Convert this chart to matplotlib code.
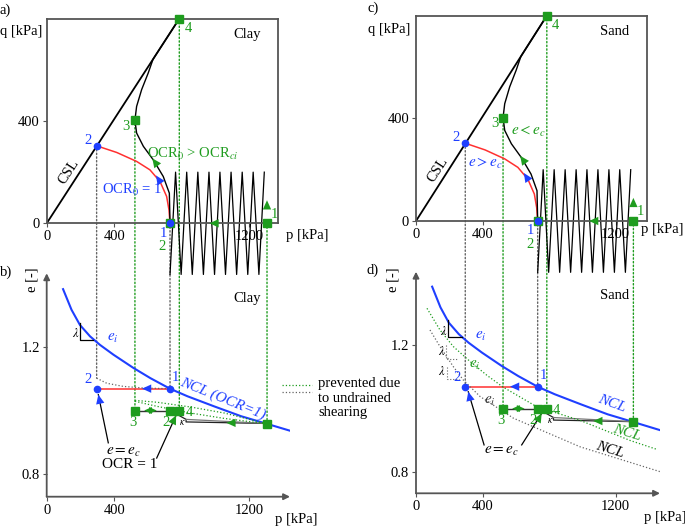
import matplotlib
matplotlib.use('Agg')
import matplotlib.pyplot as plt
from matplotlib.patches import ConnectionPatch
from matplotlib.lines import Line2D

plt.rcParams['font.family'] = ['Liberation Serif', 'DejaVu Serif']
plt.rcParams['mathtext.fontset'] = 'stix'
plt.rcParams['font.size'] = 10.5

BLUE = '#1f3fff'
GREEN = '#1e9c1e'
RED = '#ff3030'
GRAY = '#555555'
DOT = '#666666'

# --- stress paths p-q (kPa), same sketch for clay and sand
csl_p = [0, 786]
csl_q = [0, 800]
red_p = [731, 725, 711, 672, 612, 533, 415, 296]
red_q = [0, 52, 105, 163, 209, 242, 277, 303]
black_p = [731, 727, 691, 632, 573, 533, 523, 533, 563, 602, 630, 786]
black_q = [0, 118, 183, 248, 301, 353, 403, 457, 523, 588, 641, 800]
cyc_p = [1290, 1258, 1224, 1192, 1159, 1126, 1093, 1060, 1027, 995, 962, 929,
         896, 863, 830, 797, 764, 731]
cyc_q = [200, -200, 200, -200, 200, -200, 200, -200, 200, -200, 200, -200,
         200, -200, 200, -200, 200, -200]
blue_pq_p = [731, 296]
blue_pq_q = [0, 303]
green_pq_p = [1306, 731, 523, 786]
green_pq_q = [0, 0, 403, 800]

# --- e-p plane
ncl_p = [97, 147, 197, 257, 316, 396, 515, 615, 730, 834, 993, 1152, 1305, 1475]
ncl_e = [1.383, 1.318, 1.270, 1.234, 1.207, 1.176, 1.134, 1.102, 1.069, 1.045,
         1.013, 0.982, 0.958, 0.931]
ncl_green_p = [66, 144, 224, 325, 425, 522, 725, 986, 1286, 1447]
ncl_green_e = [1.315, 1.247, 1.195, 1.148, 1.105, 1.068, 1.006, 0.963, 0.900, 0.872]
ncl_gray_p = [84, 144, 224, 284, 385, 585, 986, 1466]
ncl_gray_e = [1.247, 1.195, 1.132, 1.090, 1.038, 0.970, 0.880, 0.802]
prev_gray_p = [296, 356, 455, 575, 714]
prev_gray_e = [1.102, 1.086, 1.076, 1.071, 1.069]
prev_g1_p = [523, 655, 854, 1053, 1306]
prev_g1_e = [1.032, 1.026, 1.011, 0.992, 0.958]
prev_g2_p = [523, 655, 854, 1053, 1306]
prev_g2_e = [1.029, 1.013, 0.992, 0.975, 0.958]
blue_ep_p = [731, 296]
blue_ep_e = [1.069, 1.069]
green_ep_p = [1306, 731, 523, 786]
green_ep_e = [0.958, 1.0, 1.0, 1.0]
kap_p = [731, 826, 826, 1306]
kap_e = [1.0, 0.972, 0.964, 0.959]

fig = plt.figure(figsize=(6.85, 5.28), dpi=100)


def place(l, t, r, b):
    ax = fig.add_axes([l / 685, 1 - b / 528, (r - l) / 685, (b - t) / 528])
    ax.patch.set_visible(False)
    return ax


def head(ax, x0, y0, x1, y1, c, ms=12):
    ax.annotate('', xy=(x1, y1), xytext=(x0, y0),
                arrowprops=dict(arrowstyle='-|>,head_length=0.55,head_width=0.25',
                                color=c, lw=0.01, mutation_scale=ms,
                                shrinkA=0, shrinkB=0))


def pq_panel(ax, name, xmax, arr_left):
    ax.set_xlim(0, xmax)
    ax.set_ylim(0, 800)
    for s in ax.spines.values():
        s.set_color(GRAY)
        s.set_linewidth(1.3)
    ax.set_xticks([0, 400, 1200])
    ax.set_yticks([0, 400])
    ax.tick_params(length=3, color=GRAY, pad=2)
    ax.plot(csl_p, csl_q, color='black', lw=1.3)
    ax.plot(cyc_p, cyc_q, color='black', lw=0.9, clip_on=False)
    ax.plot(red_p, red_q, color=RED, lw=1.1)
    ax.plot(black_p, black_q, color='black', lw=1.0)
    ax.plot(green_pq_p, green_pq_q, 's', color=GREEN, ms=5.5, clip_on=False, zorder=5)
    ax.plot(blue_pq_p, blue_pq_q, 'o', color=BLUE, ms=4.5, clip_on=False, zorder=6)
    head(ax, 668, 167, 648, 187, BLUE)
    head(ax, 648, 234, 626, 254, GREEN)
    head(ax, 1306, 30, 1306, 90, GREEN)
    head(ax, arr_left + 40, 0, arr_left, 0, GREEN)
    ax.text(130, 200, 'CSL', rotation=57, ha='center', va='center')
    ax.text(1190, 740, name, ha='center', va='center')
    ax.text(242, 325, '2', color=BLUE, ha='center', va='center')
    ax.text(472, 380, '3', color=GREEN, ha='center', va='center')
    ax.text(838, 760, '4', color=GREEN, ha='center', va='center')
    ax.text(690, -38, '1', color=BLUE, ha='center', va='center')
    ax.text(685, -92, '2', color=GREEN, ha='center', va='center')
    ax.text(1348, 36, '1', color=GREEN, ha='center', va='center')


def ep_panel(ax, name, xmax, ymin, ymax):
    ax.set_xlim(0, xmax)
    ax.set_ylim(ymin, ymax)
    for s in ax.spines.values():
        s.set_visible(False)
    ax.set_xticks([0, 400, 1200])
    ax.set_yticks([0.8, 1.2])
    ax.set_yticklabels(['0.8', '1.2'])
    ax.tick_params(length=3, color=GRAY, pad=2)
    ax.annotate('', xy=(1, 0), xytext=(0, 0), xycoords='axes fraction',
                arrowprops=dict(arrowstyle='-|>', color=GRAY, lw=1.3,
                                mutation_scale=9, shrinkA=0, shrinkB=0))
    ax.annotate('', xy=(0, 1), xytext=(0, 0), xycoords='axes fraction',
                arrowprops=dict(arrowstyle='-|>', color=GRAY, lw=1.3,
                                mutation_scale=9, shrinkA=0, shrinkB=0))
    ax.plot(ncl_p, ncl_e, color=BLUE, lw=1.5)
    ax.plot(blue_ep_p, blue_ep_e, color=RED, lw=1.1)
    ax.plot([523, 786], [1.0, 1.0], color='#333333', lw=1.0)
    ax.plot(kap_p, kap_e, color='#222222', lw=0.9)
    ax.plot([826, 1306], [0.972, 0.959], color='#777777', lw=0.9)
    ax.plot(green_ep_p, green_ep_e, 's', color=GREEN, ms=5.5, zorder=5)
    ax.plot(blue_ep_p, blue_ep_e, 'o', color=BLUE, ms=4.5, zorder=6)
    head(ax, 610, 1.069, 565, 1.069, BLUE)
    head(ax, 615, 1.0, 578, 1.0, GREEN, 10)
    head(ax, 612, 1.0, 652, 1.0, GREEN, 10)
    head(ax, 1110, 0.961, 1065, 0.961, GREEN)
    ax.text(806, 0.962, r'$\kappa$', fontsize=7, ha='center', va='center')
    ax.text(1190, 1.355, name, ha='center', va='center')
    ax.text(513, 0.962, '3', color=GREEN, ha='center', va='center')
    ax.text(705, 0.962, '2', color=GREEN, ha='center', va='center')
    ax.text(846, 0.995, '4', color=GREEN, ha='center', va='center')
    ax.text(764, 1.104, '1', color=BLUE, ha='center', va='center')
    ax.text(247, 1.097, '2', color=BLUE, ha='center', va='center')
    ax.text(390, 1.227, r'$e_i$', color=BLUE, ha='center', va='center', fontsize=11)


# ---------------- a) clay p-q
ax_a = place(46.7, 18.7, 278.3, 223.3)
pq_panel(ax_a, 'Clay', 1373, 965)
ax_a.text(504, 131, r'OCR$_0$ = 1', color=BLUE, ha='center', va='center')
ax_a.text(867, 272, r'OCR$_0$ > OCR$_{ci}$', color=GREEN, ha='center', va='center')

# ---------------- c) sand p-q
ax_c = place(416, 15.7, 646.7, 221)
pq_panel(ax_c, 'Sand', 1386, 1040)
ax_c.text(675, 350, r'$e<e_c$', color=GREEN, ha='center', va='center', fontsize=11)
ax_c.text(415, 225, r'$e>e_c$', color=BLUE, ha='center', va='center', fontsize=11)

# ---------------- b) clay e-p
ax_b = place(46.7, 273.3, 290, 496.7)
ep_panel(ax_b, 'Clay', 1442, 0.728, 1.433)
ax_b.plot(prev_gray_p, prev_gray_e, ':', color=DOT, lw=0.9)
ax_b.plot(prev_g1_p, prev_g1_e, ':', color=GREEN, lw=0.9)
ax_b.plot(prev_g2_p, prev_g2_e, ':', color=GREEN, lw=0.9)
ax_b.plot([197, 197, 276], [1.2756, 1.223, 1.223], color='black', lw=0.9)
ax_b.text(174, 1.244, r'$\lambda$', ha='center', va='center', fontsize=9)
ax_b.text(1045, 1.036, 'NCL (OCR=1)', color=BLUE, style='italic', rotation=-22,
          ha='center', va='center', fontsize=11)
ax_b.plot([365, 306], [0.898, 1.050], color='black', lw=0.9)
head(ax_b, 320, 1.015, 306, 1.050, BLUE)
ax_b.plot([652, 767], [0.850, 0.985], color='black', lw=0.9)
head(ax_b, 742, 0.957, 767, 0.985, GREEN)
ax_b.text(454, 0.868, r'$e = e_c$', ha='center', va='center', fontsize=11)
ax_b.text(494, 0.829, 'OCR = 1', ha='center', va='center', fontsize=11)

# ---------------- d) sand e-p
ax_d = place(416, 271.7, 660, 493.3)
ep_panel(ax_d, 'Sand', 1466, 0.734, 1.430)
ax_d.plot(ncl_green_p, ncl_green_e, ':', color=GREEN, lw=0.9)
ax_d.plot(ncl_gray_p, ncl_gray_e, ':', color=DOT, lw=0.9)
ax_d.plot([194, 194, 275], [1.2785, 1.224, 1.224], color='black', lw=0.9)
ax_d.plot([180, 180, 245], [1.2, 1.156, 1.156], ':', color=DOT, lw=0.8)
ax_d.plot([184, 184, 260], [1.13, 1.094, 1.094], ':', color=DOT, lw=0.8)
ax_d.text(164, 1.242, r'$\lambda$', ha='center', va='center', fontsize=9)
ax_d.text(154, 1.179, r'$\lambda$', ha='center', va='center', fontsize=9)
ax_d.text(154, 1.116, r'$\lambda$', ha='center', va='center', fontsize=9)
ax_d.text(355, 1.137, r'$e_i$', color=GREEN, ha='center', va='center', fontsize=11)
ax_d.text(445, 1.022, r'$e_i$', color='#333333', ha='center', va='center', fontsize=11)
ax_d.text(1176, 1.017, 'NCL', color=BLUE, style='italic', rotation=-20,
          ha='center', va='center', fontsize=11)
ax_d.text(1266, 0.924, 'NCL', color=GREEN, style='italic', rotation=-17,
          ha='center', va='center', fontsize=11)
ax_d.text(1166, 0.870, 'NCL', color='black', style='italic', rotation=-17,
          ha='center', va='center', fontsize=11)
ax_d.plot([409, 314], [0.886, 1.053], color='black', lw=0.9)
head(ax_d, 330, 1.020, 314, 1.053, BLUE)
ax_d.plot([635, 755], [0.886, 0.985], color='black', lw=0.9)
head(ax_d, 730, 0.962, 755, 0.985, GREEN)
ax_d.text(515, 0.865, r'$e = e_c$', ha='center', va='center', fontsize=11)

# ---------------- dotted projections between p-q and e-p
for top, bot in [(ax_a, ax_b), (ax_c, ax_d)]:
    links = [(296, 303, 1.102 if bot is ax_b else 1.069, DOT),
             (731, 0, 1.069, DOT),
             (523, 403, 1.0, GREEN),
             (786, 800, 1.0, GREEN),
             (1306, 0, 0.958, GREEN)]
    for p, q, e, c in links:
        con = ConnectionPatch(xyA=(p, q), coordsA='data', axesA=top,
                              xyB=(p, e), coordsB='data', axesB=bot,
                              linestyle=':', color=c, lw=1.0, zorder=-1)
        fig.add_artist(con)

# ---------------- labels in figure space
fig.text(5 / 685, 1 - 10 / 528, 'a)', ha='center', va='center')
fig.text(6 / 685, 1 - 272 / 528, 'b)', ha='center', va='center')
fig.text(373 / 685, 1 - 8 / 528, 'c)', ha='center', va='center')
fig.text(373 / 685, 1 - 270 / 528, 'd)', ha='center', va='center')
fig.text(21 / 685, 1 - 31 / 528, 'q [kPa]', ha='center', va='center')
fig.text(389 / 685, 1 - 29 / 528, 'q [kPa]', ha='center', va='center')
fig.text(307 / 685, 1 - 236 / 528, 'p [kPa]', ha='center', va='center')
fig.text(662 / 685, 1 - 230 / 528, 'p [kPa]', ha='center', va='center')
fig.text(296 / 685, 1 - 520 / 528, 'p [kPa]', ha='center', va='center')
fig.text(665 / 685, 1 - 517 / 528, 'p [kPa]', ha='center', va='center')
fig.text(32 / 685, 1 - 280 / 528, 'e [-]', rotation=90, ha='center', va='center')
fig.text(393 / 685, 1 - 280 / 528, 'e [-]', rotation=90, ha='center', va='center')

fig.add_artist(Line2D([282 / 685, 312 / 685], [1 - 385 / 528] * 2, ls=':', color=GREEN, lw=0.9))
fig.add_artist(Line2D([282 / 685, 312 / 685], [1 - 392 / 528] * 2, ls=':', color=DOT, lw=0.9))
fig.text(318 / 685, 1 - 377 / 528, 'prevented due\nto undrained\nshearing',
         ha='left', va='top', linespacing=1.15)

fig.savefig('out.png', dpi=100)
